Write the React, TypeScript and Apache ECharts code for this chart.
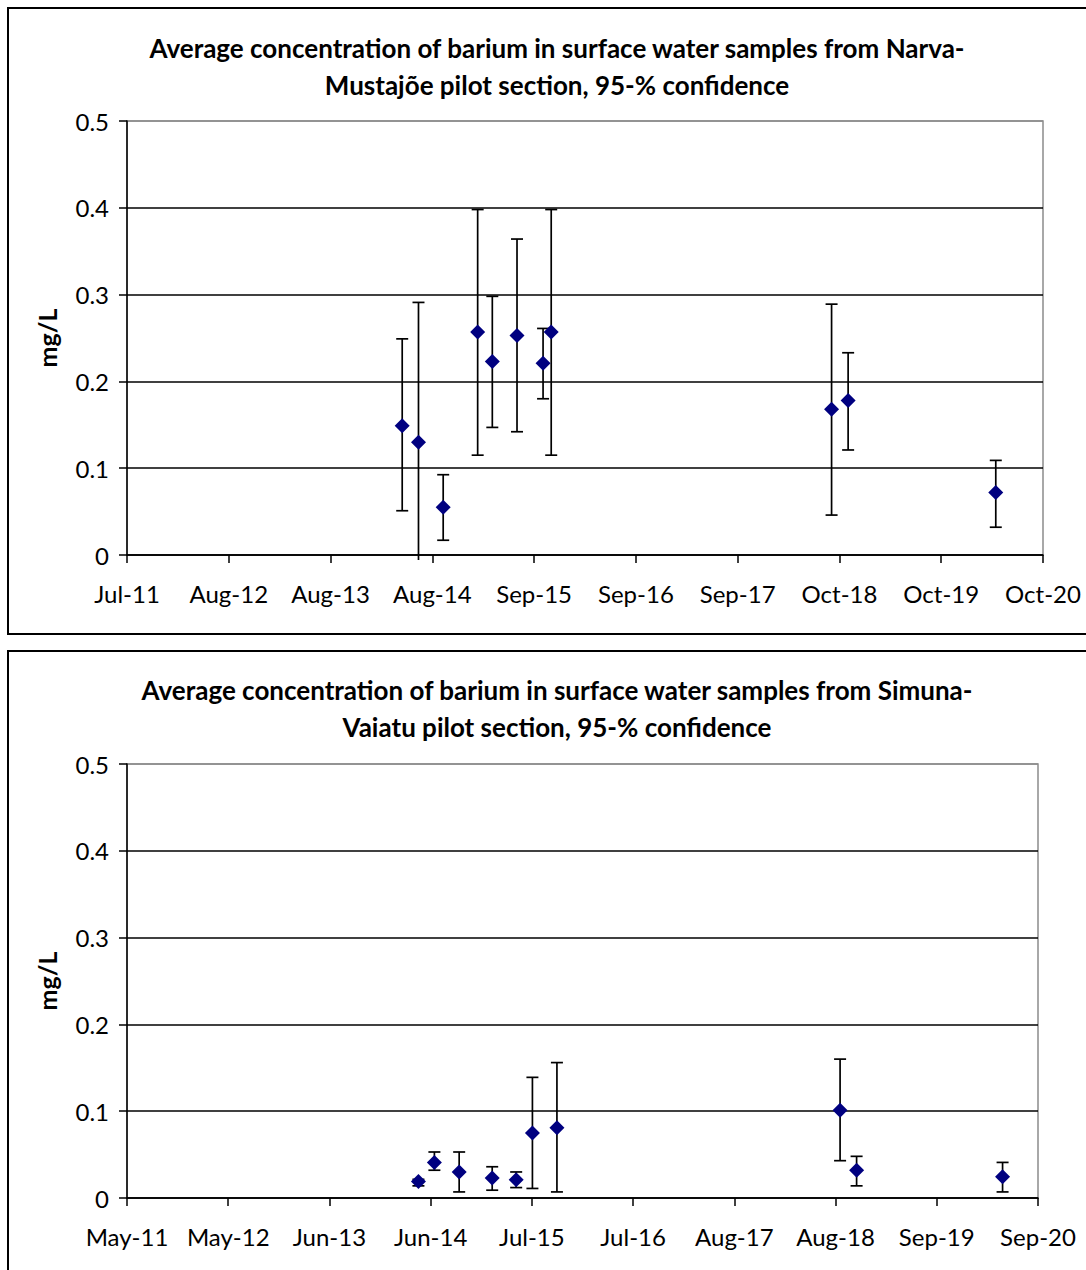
import React, { useEffect, useRef } from "react";
import * as echarts from "echarts";

// ---- Data ----
const TOP_TITLE_1 = "Average concentration of barium in surface water samples from Narva-";
const TOP_TITLE_2 = "Mustajõe pilot section, 95-% confidence";
const TOP_AXIS_START = "2011-07-26";
const TOP_AXIS_STEP_DAYS = 375;
const TOP_DATES = ["2014-05-05", "2014-07-04", "2014-10-03", "2015-02-07", "2015-04-02", "2015-07-02", "2015-10-06", "2015-11-05", "2018-09-03", "2018-11-03", "2020-04-30"];
const TOP_MEAN = [0.149, 0.130, 0.055, 0.257, 0.223, 0.253, 0.221, 0.257, 0.168, 0.178, 0.072];
const TOP_LOW = [0.051, -0.03, 0.017, 0.115, 0.147, 0.142, 0.180, 0.115, 0.046, 0.121, 0.032];
const TOP_HIGH = [0.249, 0.291, 0.0925, 0.398, 0.298, 0.364, 0.261, 0.398, 0.289, 0.233, 0.109];

const BOT_TITLE_1 = "Average concentration of barium in surface water samples from Simuna-";
const BOT_TITLE_2 = "Vaiatu pilot section, 95-% confidence";
const BOT_AXIS_START = "2011-05-15";
const BOT_AXIS_STEP_DAYS = 380;
const BOT_DATES = ["2014-05-13", "2014-07-12", "2014-10-13", "2015-02-14", "2015-05-15", "2015-07-15", "2015-10-15", "2018-09-12", "2018-11-13", "2020-05-14"];
const BOT_MEAN = [0.019, 0.041, 0.030, 0.023, 0.021, 0.075, 0.081, 0.101, 0.032, 0.0245];
const BOT_LOW = [0.014, 0.032, 0.007, 0.009, 0.012, 0.011, 0.007, 0.043, 0.014, 0.007];
const BOT_HIGH = [0.0215, 0.053, 0.053, 0.036, 0.030, 0.139, 0.156, 0.160, 0.048, 0.041];

const Y_TICKS = [0, 0.1, 0.2, 0.3, 0.4, 0.5];
const Y_NAME = "mg/L";
const MONTHS = ["Jan", "Feb", "Mar", "Apr", "May", "Jun", "Jul", "Aug", "Sep", "Oct", "Nov", "Dec"];

const DAY = 86400000;
const toMs = (s: string) => {
  const [y, m, d] = s.split("-").map(Number);
  return Date.UTC(y, m - 1, d);
};
const dayOffset = (s: string, start: string) => Math.round((toMs(s) - toMs(start)) / DAY);
const fmt = (start: string) => (v: number) => {
  const d = new Date(toMs(start) + v * DAY);
  return MONTHS[d.getUTCMonth()] + "-" + String(d.getUTCFullYear() % 100).padStart(2, "0");
};

const FONT = "Lato, 'Noto Sans', sans-serif";

export default function App() {
  const ref = useRef<HTMLDivElement>(null);
  useEffect(() => {
    if (!ref.current) return;
    const chart = echarts.init(ref.current, undefined, { renderer: "svg" });

    const topPts = TOP_DATES.map((d, i) => [dayOffset(d, TOP_AXIS_START), TOP_MEAN[i]]);
    const topErr = TOP_DATES.map((d, i) => [dayOffset(d, TOP_AXIS_START), TOP_LOW[i], TOP_HIGH[i]]);
    const botPts = BOT_DATES.map((d, i) => [dayOffset(d, BOT_AXIS_START), BOT_MEAN[i]]);
    const botErr = BOT_DATES.map((d, i) => [dayOffset(d, BOT_AXIS_START), BOT_LOW[i], BOT_HIGH[i]]);

    const errRender = (params: any, api: any) => {
      const x = api.value(0);
      const lo = api.value(1);
      const hi = api.value(2);
      const pHi = api.coord([x, hi]);
      const pLo = api.coord([x, Math.max(lo, 0)]);
      let yLo = pLo[1];
      const capLo = lo >= 0;
      if (!capLo) yLo += 5;
      const hw = 6;
      const style = { stroke: "#000", lineWidth: 1.7 };
      const children: any[] = [
        { type: "line", shape: { x1: pHi[0], y1: pHi[1], x2: pHi[0], y2: yLo }, style },
        { type: "line", shape: { x1: pHi[0] - hw, y1: pHi[1], x2: pHi[0] + hw, y2: pHi[1] }, style },
      ];
      if (capLo) children.push({ type: "line", shape: { x1: pLo[0] - hw, y1: yLo, x2: pLo[0] + hw, y2: yLo }, style });
      return { type: "group", children };
    };

    const xAxisBase = (start: string, step: number, gridIndex: number) => ({
      type: "value",
      gridIndex,
      min: 0,
      max: step * 9,
      interval: step,
      axisLine: { show: true, lineStyle: { color: "#000", width: 1.5 } },
      axisTick: { show: true, inside: false, length: 8, lineStyle: { color: "#000", width: 1.5 } },
      axisLabel: { formatter: fmt(start), color: "#000", fontSize: 24, fontFamily: FONT, margin: 26 },
      splitLine: { show: false },
    });
    const yAxisBase = (gridIndex: number) => ({
      type: "value",
      gridIndex,
      min: Y_TICKS[0],
      max: Y_TICKS[Y_TICKS.length - 1],
      interval: 0.1,
      name: Y_NAME,
      nameLocation: "middle",
      nameGap: 68,
      nameRotate: 90,
      nameTextStyle: { color: "#000", fontSize: 25, fontWeight: "bold", fontFamily: FONT },
      axisLine: { show: true, lineStyle: { color: "#000", width: 1.5 } },
      axisTick: { show: true, inside: false, length: 8, lineStyle: { color: "#000", width: 1.5 } },
      axisLabel: { color: "#000", fontSize: 24, fontFamily: FONT, margin: 18 },
      splitLine: { show: true, lineStyle: { color: ["#000", "#000", "#000", "#000", "#000", "#8c8c8c"], width: 1.5 } },
    });

    const titleText = (text: string, y: number) => ({
      type: "text",
      x: 557,
      y,
      style: { text, fill: "#000", font: `bold 26px ${FONT}`, textAlign: "center", textVerticalAlign: "middle" },
    });

    chart.setOption({
      animation: false,
      backgroundColor: "#fff",
      graphic: [
        { type: "rect", shape: { x: 8, y: 8, width: 1200, height: 626 }, style: { fill: "none", stroke: "#000", lineWidth: 2 } },
        { type: "rect", shape: { x: 8, y: 651, width: 1200, height: 700 }, style: { fill: "none", stroke: "#000", lineWidth: 2 } },
        titleText(TOP_TITLE_1, 48),
        titleText(TOP_TITLE_2, 85),
        titleText(BOT_TITLE_1, 690),
        titleText(BOT_TITLE_2, 727),
      ],
      grid: [
        { left: 127, top: 121, width: 916, height: 434, show: true, borderColor: "#8c8c8c", borderWidth: 1.5, backgroundColor: "transparent" },
        { left: 127, top: 764, width: 911, height: 434, show: true, borderColor: "#8c8c8c", borderWidth: 1.5, backgroundColor: "transparent" },
      ],
      xAxis: [xAxisBase(TOP_AXIS_START, TOP_AXIS_STEP_DAYS, 0), xAxisBase(BOT_AXIS_START, BOT_AXIS_STEP_DAYS, 1)],
      yAxis: [yAxisBase(0), yAxisBase(1)],
      series: [
        { type: "custom", xAxisIndex: 0, yAxisIndex: 0, data: topErr, renderItem: errRender, z: 2 },
        { type: "scatter", xAxisIndex: 0, yAxisIndex: 0, data: topPts, symbol: "diamond", symbolSize: 15, itemStyle: { color: "#000080", opacity: 1 }, z: 3 },
        { type: "custom", xAxisIndex: 1, yAxisIndex: 1, data: botErr, renderItem: errRender, z: 2 },
        { type: "scatter", xAxisIndex: 1, yAxisIndex: 1, data: botPts, symbol: "diamond", symbolSize: 15, itemStyle: { color: "#000080", opacity: 1 }, z: 3 },
      ],
    });
    return () => chart.dispose();
  }, []);
  return <div ref={ref} style={{ position: "fixed", left: 0, top: 0, width: 1086, height: 1270 }} />;
}
